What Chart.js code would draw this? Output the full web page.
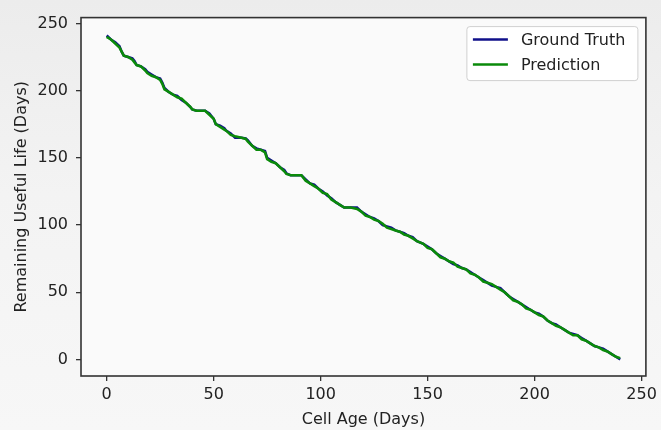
<!DOCTYPE html>
<html lang="en">
<head>
<meta charset="UTF-8">
<title>Remaining Useful Life</title>
<style>
    body { margin: 0; background: #f1f1f1; }
    #wrap { width: 661px; height: 430px; background: linear-gradient(180deg, #ececec 0%, #f3f3f3 45%, #f7f7f7 100%); }
</style>
</head>
<body>
<div id="wrap">
    <canvas id="rulChart" width="661" height="430"></canvas>
</div>
<script src="https://cdn.jsdelivr.net/npm/chart.js"></script>
<script>
    // cell age in days
    const days = [
        0, 2, 4, 6, 7, 8, 10, 12, 13, 14,
        16, 18, 19, 21, 23, 25, 26, 27, 29, 31,
        33, 35, 37, 39, 40, 42, 46, 48, 50, 51,
        53, 55, 56, 58, 60, 63, 65, 66, 68, 70,
        72, 74, 75, 77, 79, 81, 83, 84, 86, 88,
        91, 93, 95, 97, 99, 101, 103, 105, 107, 109,
        111, 114, 117, 119, 121, 123, 125, 127, 129, 131,
        133, 135, 137, 139, 141, 143, 145, 148, 150, 152,
        154, 156, 158, 160, 162, 164, 166, 168, 170, 172,
        174, 176, 178, 180, 182, 184, 186, 188, 190, 192,
        194, 196, 198, 200, 202, 204, 206, 208, 210, 212,
        214, 216, 218, 220, 222, 224, 226, 228, 230, 232,
        234, 236, 238, 240
    ];
    const groundTruth = [
        241, 238, 236, 233, 229, 226, 225, 224, 222, 219,
        218, 216, 214, 212, 210, 209, 206, 202, 199, 197,
        196, 193, 191, 188, 186, 185, 185, 183, 179, 175,
        174, 172, 170, 168, 165, 165, 164.5, 163, 159, 157,
        156, 155, 150, 148, 146, 143, 141, 138.5, 137, 137,
        137, 134, 131, 130, 127, 125, 122, 120, 117, 115,
        113, 113, 113, 110, 108, 106, 105, 103, 100, 99,
        98, 96, 95, 94, 92, 91, 88, 86, 84, 82,
        79, 77, 75, 73, 71, 70, 68, 67, 65, 63,
        61, 59, 57, 55, 54, 53, 50, 47, 45, 43,
        41, 39, 37, 35, 34, 32, 29, 27, 26, 24,
        22, 20, 19, 18, 16, 14, 12, 10, 9, 8,
        6, 4, 2, 0
    ];
    const prediction = [
        240, 238, 235, 232, 229, 226, 225, 223, 221, 219,
        218, 215, 213, 211, 210, 208, 205, 201, 199, 197,
        195, 194, 191, 188, 186, 185, 185, 182, 179, 175,
        173, 171, 170, 167, 166, 165, 164, 162, 159, 156,
        156, 154, 149, 147, 146, 143, 140, 138, 137, 137,
        137, 133, 131, 129, 127, 124, 123, 119, 117, 115,
        113, 113, 112, 110, 107, 106, 104, 103, 101, 98,
        97, 96, 95, 93, 92, 90, 88, 86, 83, 82,
        79, 76, 75, 73, 72, 69, 68, 67, 64, 63,
        61, 58, 57, 56, 54, 52, 50, 47, 44, 43,
        41, 38, 37, 35, 33, 32, 29, 27, 25, 24,
        22, 20, 18, 18, 15, 14, 12, 10, 9, 7,
        6, 4, 2, 1
    ];
    const xTicks = [0, 50, 100, 150, 200, 250];
    const yTicks = [0, 50, 100, 150, 200, 250];

    const FONT = "'DejaVu Sans', sans-serif";
    const AXIS = '#333333';

    function points(ys) {
        return days.map((d, i) => ({ x: d, y: ys[i] }));
    }

    // light plot background + full frame
    const frame = {
        id: 'frame',
        beforeDatasetsDraw(chart) {
            let a = chart.chartArea, ctx = chart.ctx;
            ctx.save();
            ctx.fillStyle = '#fafafa';
            ctx.fillRect(a.left, a.top, a.right - a.left, a.bottom - a.top);
            ctx.restore();
        },
        afterDatasetsDraw(chart) {
            let a = chart.chartArea, ctx = chart.ctx;
            ctx.save();
            ctx.strokeStyle = AXIS;
            ctx.lineWidth = 1.6;
            ctx.strokeRect(a.left, a.top, a.right - a.left, a.bottom - a.top);
            ctx.restore();
        }
    };

    // matplotlib-like legend box in the upper right
    const boxLegend = {
        id: 'boxLegend',
        afterDraw(chart) {
            let ctx = chart.ctx;
            let a = chart.chartArea;
            let w = 171, h = 54;
            let x = a.right - 8 - w, y = a.top + 9;
            ctx.save();
            ctx.beginPath();
            ctx.roundRect(x, y, w, h, 3);
            ctx.fillStyle = 'rgba(255,255,255,0.85)';
            ctx.fill();
            ctx.strokeStyle = '#d0d0d0';
            ctx.lineWidth = 1;
            ctx.stroke();
            ctx.font = '16px ' + FONT;
            ctx.textBaseline = 'middle';
            chart.data.datasets.forEach((ds, i) => {
                let ly = y + 13 + i * 25;
                ctx.beginPath();
                ctx.moveTo(x + 6, ly);
                ctx.lineTo(x + 41, ly);
                ctx.strokeStyle = ds.borderColor;
                ctx.lineWidth = 2.5;
                ctx.stroke();
                ctx.fillStyle = '#222';
                ctx.fillText(ds.label, x + 54, ly + 1);
            });
            ctx.restore();
        }
    };

    new Chart(document.getElementById('rulChart'), {
        type: 'line',
        data: {
            datasets: [{
                label: 'Ground Truth',
                data: points(groundTruth),
                borderColor: '#10108a',
                borderWidth: 2.5,
                pointRadius: 0,
                tension: 0,
                order: 2
            }, {
                label: 'Prediction',
                data: points(prediction),
                borderColor: '#0a8a0a',
                borderWidth: 2.6,
                pointRadius: 0,
                tension: 0,
                order: 1
            }]
        },
        options: {
            responsive: false,
            animation: false,
            layout: { padding: { top: 8, right: 15, left: 0, bottom: 0 } },
            plugins: {
                legend: { display: false },
                tooltip: { enabled: false }
            },
            scales: {
                x: {
                    type: 'linear',
                    min: -12,
                    max: 252,
                    afterBuildTicks(scale) { scale.ticks = xTicks.map(v => ({ value: v })); },
                    afterFit(scale) { scale.height = 54; },
                    border: { display: false },
                    grid: { display: true, drawOnChartArea: false, drawTicks: true, tickLength: 5, color: AXIS, lineWidth: 1.3 },
                    ticks: { color: '#222', font: { family: FONT, size: 16 }, padding: 4, maxRotation: 0 },
                    title: { display: true, text: 'Cell Age (Days)', color: '#222', font: { family: FONT, size: 16 }, padding: { top: 0, bottom: 1 } }
                },
                y: {
                    type: 'linear',
                    min: -12.3,
                    max: 254.3,
                    afterBuildTicks(scale) { scale.ticks = yTicks.map(v => ({ value: v })); },
                    afterFit(scale) { scale.width = 81; },
                    border: { display: false },
                    grid: { display: true, drawOnChartArea: false, drawTicks: true, tickLength: 5, color: AXIS, lineWidth: 1.3 },
                    ticks: { color: '#222', font: { family: FONT, size: 16 }, padding: 8 },
                    title: { display: true, text: 'Remaining Useful Life (Days)', color: '#222', font: { family: FONT, size: 16 }, padding: { top: 12, bottom: 0 } }
                }
            }
        },
        plugins: [frame, boxLegend]
    });
</script>
</body>
</html>
